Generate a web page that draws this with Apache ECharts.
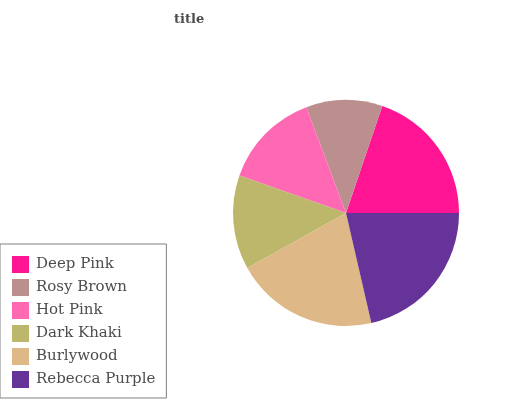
<!DOCTYPE html>
<html><head><meta charset="utf-8">
<script src="https://cdn.jsdelivr.net/npm/echarts@6/dist/echarts.min.js"></script>
<style>html,body{margin:0;padding:0;background:#fff}#c{width:532px;height:400px}</style>
</head><body><div id="c"></div>
<script>
const categories = ["Deep Pink","Rosy Brown","Hot Pink","Dark Khaki","Burlywood","Rebecca Purple"];
const values = [19.8, 10.9, 13.9, 13.5, 20.5, 21.4];
const colors = ["#ff1493","#bc8f8f","#ff69b4","#bdb76b","#deb887","#663399"];
const chart = echarts.init(document.getElementById('c'), null, {renderer:'canvas'});
chart.setOption({
  animation:false,
  backgroundColor:'#ffffff',
  title:{text:'title', left:169, top:8, textStyle:{fontFamily:'DejaVu Serif', fontWeight:'bold', fontSize:13, color:'#4d4d4d'}},
  legend:{orient:'vertical', left:0, top:244, itemWidth:17, itemHeight:17, itemGap:6,
    padding:[12,11,10,12], borderColor:'#808080', borderWidth:1, borderRadius:0,
    icon:'rect', data:categories,
    textStyle:{fontFamily:'DejaVu Serif', fontSize:15, color:'#4d4d4d', padding:[0,0,0,2]}},
  series:[{type:'pie', center:[346,213], radius:113, startAngle:0, clockwise:false,
    label:{show:false}, labelLine:{show:false}, silent:true,
    itemStyle:{borderWidth:0},
    data:categories.map((n,i)=>({name:n, value:values[i], itemStyle:{color:colors[i]}}))}]
});
</script></body></html>
